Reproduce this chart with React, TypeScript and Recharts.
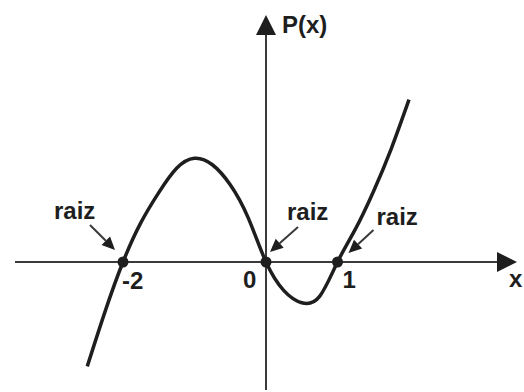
import React from "react";
import { LineChart, Line, XAxis, YAxis, ReferenceLine, ReferenceDot } from "recharts";

const curveX = [-2.5, -2.25, -2.0, -1.75, -1.5, -1.25, -1.0, -0.75, -0.5, -0.25, 0, 0.25, 0.5, 0.75, 1.0, 1.25, 1.5, 1.75, 2.0];
const curveY = [-1.46, -0.69, 0, 0.55, 0.97, 1.31, 1.45, 1.36, 1.08, 0.62, 0, -0.4, -0.57, -0.48, 0, 0.46, 0.98, 1.58, 2.27];

const roots = [-2, 0, 1];
const rootTicks = ["-2", "0", "1"];
const rootLabel = "raiz";
const xAxisLabel = "x";
const yAxisLabel = "P(x)";

const data = curveX.map((x, i) => ({ x, y: curveY[i] }));

const W = 524;
const H = 392;
const UNIT = 71.5;
const OX = 266;
const OY = 262;

const xDomain = [-OX / UNIT, (W - OX) / UNIT];
const yDomain = [-(H - OY) / UNIT, OY / UNIT];

const FONT = "'Liberation Sans', Arial, sans-serif";
const INK = "#1e1e1e";
const AXIS = "#3a3a3a";

// offsets (px) of each root's annotation: arrow start, arrow tip, "raiz" text, tick text
const notes = [
  { a: [-33, -37], t: [-8, -12], r: [-69, -43], k: [-1, 27] },
  { a: [32, -35], t: [4, -10], r: [21, -42], k: [-23, 26] },
  { a: [36, -32], t: [11, -9], r: [39, -37], k: [5, 26] },
];

function arrowHead(x1: number, y1: number, x2: number, y2: number, len: number, half: number) {
  const l = Math.hypot(x2 - x1, y2 - y1) || 1;
  const dx = (x2 - x1) / l;
  const dy = (y2 - y1) / l;
  const bx = x2 - dx * len;
  const by = y2 - dy * len;
  return {
    bx,
    by,
    pts: `${x2},${y2} ${bx - dy * half},${by + dx * half} ${bx + dy * half},${by - dx * half}`,
  };
}

function AxisArrow(props: any) {
  const { x1, y1, x2, y2, text, tx, ty } = props;
  const h = arrowHead(x1, y1, x2, y2, 20, 10);
  return (
    <g>
      <line x1={x1} y1={y1} x2={h.bx} y2={h.by} stroke={AXIS} strokeWidth={2} />
      <polygon points={h.pts} fill={INK} />
      <text x={x2 + tx} y={y2 + ty} fontFamily={FONT} fontWeight="bold" fontSize={24} fill={INK}>
        {text}
      </text>
    </g>
  );
}

function RootMark(props: any) {
  const { cx, cy, i } = props;
  const n = notes[i];
  const sx = cx + n.a[0];
  const sy = cy + n.a[1];
  const ex = cx + n.t[0];
  const ey = cy + n.t[1];
  const h = arrowHead(sx, sy, ex, ey, 13, 6);
  return (
    <g>
      <circle cx={cx} cy={cy} r={5.5} fill={INK} />
      <line x1={sx} y1={sy} x2={h.bx} y2={h.by} stroke={AXIS} strokeWidth={2} />
      <polygon points={h.pts} fill={INK} />
      <text x={cx + n.r[0]} y={cy + n.r[1]} fontFamily={FONT} fontWeight="bold" fontSize={24} fill={INK}>
        {rootLabel}
      </text>
      <text x={cx + n.k[0]} y={cy + n.k[1]} fontFamily={FONT} fontWeight="bold" fontSize={24} fill={INK}>
        {rootTicks[i]}
      </text>
    </g>
  );
}

export default function App() {
  return (
    <div style={{ position: "absolute", left: 0, top: 0, width: W, height: H, background: "#fff" }}>
      <LineChart width={W} height={H} data={data} margin={{ top: 0, right: 0, bottom: 0, left: 0 }}>
        <XAxis type="number" dataKey="x" domain={xDomain} allowDataOverflow hide />
        <YAxis type="number" domain={yDomain} allowDataOverflow hide />
        <ReferenceLine
          segment={[{ x: (15 - OX) / UNIT, y: 0 }, { x: (517 - OX) / UNIT, y: 0 }]}
          shape={(p: any) => <AxisArrow {...p} text={xAxisLabel} tx={-8} ty={25} />}
        />
        <ReferenceLine
          segment={[{ x: 0, y: -(390 - OY) / UNIT }, { x: 0, y: (OY - 15) / UNIT }]}
          shape={(p: any) => <AxisArrow {...p} text={yAxisLabel} tx={16} ty={18} />}
        />
        <Line
          type="natural"
          dataKey="y"
          stroke={INK}
          strokeWidth={3.5}
          dot={false}
          activeDot={false}
          isAnimationActive={false}
        />
        {roots.map((r, i) => (
          <ReferenceDot key={r} x={r} y={0} r={5} shape={(p: any) => <RootMark {...p} i={i} />} />
        ))}
      </LineChart>
    </div>
  );
}
